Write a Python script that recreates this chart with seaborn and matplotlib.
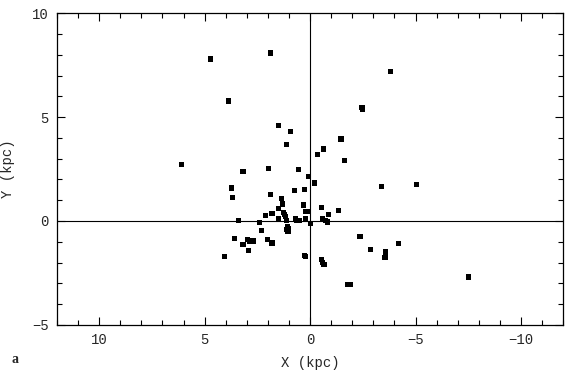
import numpy as np
import pandas as pd
import seaborn as sns
import matplotlib.pyplot as plt
from matplotlib.ticker import MultipleLocator

# galactocentric-ish positions (kpc)
x_kpc = [4.72, 1.87, -3.82, 3.87, -2.46, -2.48, 1.48, 0.94, 1.10, -1.47,
         -0.65, -0.36, -1.62, 6.10, 3.18, 1.98, 0.56, 0.09, -0.20, -3.39,
         -5.06, 0.72, 0.26, 3.71, 3.66, 1.89, 1.36, 1.30, 0.30, -0.53,
         1.49, 0.23, 0.09, -0.88, -1.33, 1.27, 1.21, 1.18, 1.81, 2.10,
         1.49, 1.10, 0.70, 0.64, 0.50, 0.22, -0.59, -0.72, -0.83, -0.02,
         3.38, 2.41, 2.31, 1.08, 1.02, 1.13, 1.05, 3.60, 2.96, 2.85,
         2.71, 3.18, 2.91, 2.03, 1.81, 4.07, -2.37, -4.21, -2.86, -3.57,
         -3.55, 0.25, 0.20, -0.56, -0.59, -0.66, -1.76, -1.90, -7.50]
y_kpc = [7.79, 8.08, 7.21, 5.77, 5.47, 5.37, 4.58, 4.31, 3.67, 3.94,
         3.46, 3.21, 2.90, 2.73, 2.38, 2.54, 2.47, 2.13, 1.83, 1.67,
         1.75, 1.47, 1.51, 1.59, 1.11, 1.29, 1.10, 0.82, 0.77, 0.66,
         0.59, 0.45, 0.45, 0.30, 0.49, 0.42, 0.30, 0.21, 0.35, 0.27,
         0.10, 0.01, 0.10, 0.03, 0.02, 0.10, 0.12, 0.01, -0.05, -0.11,
         0.01, -0.06, -0.45, -0.27, -0.35, -0.43, -0.51, -0.86, -0.88, -0.98,
         -0.96, -1.12, -1.43, -0.88, -1.06, -1.70, -0.75, -1.09, -1.36, -1.49,
         -1.76, -1.65, -1.72, -1.85, -2.00, -2.08, -3.04, -3.04, -2.70]

df = pd.DataFrame({"X": x_kpc, "Y": y_kpc})

sns.set_style("ticks")
plt.rcParams["font.family"] = ["Liberation Mono", "DejaVu Sans Mono"]
plt.rcParams["font.size"] = 10

fig = plt.figure(figsize=(5.7, 3.76), dpi=100)
ax = fig.add_axes([0.1, 0.136, 0.888, 0.829])

ax.axhline(0, color="black", lw=0.8, zorder=1)
ax.axvline(0, color="black", lw=0.8, zorder=1)
sns.scatterplot(data=df, x="X", y="Y", marker="s", s=14, color="black",
                edgecolor="none", linewidth=0, ax=ax, zorder=3)

ax.set_xlim(12, -12)
ax.set_ylim(-5, 10)
ax.xaxis.set_major_locator(MultipleLocator(5))
ax.xaxis.set_minor_locator(MultipleLocator(1))
ax.yaxis.set_major_locator(MultipleLocator(5))
ax.yaxis.set_minor_locator(MultipleLocator(1))
ax.tick_params(which="both", direction="in", top=True, right=True,
               color="black", width=0.8)
ax.tick_params(which="major", length=6, pad=6, labelsize=10)
ax.tick_params(which="minor", length=3.5)
for sp in ax.spines.values():
    sp.set_color("black")
    sp.set_linewidth(0.9)

ax.set_xlabel("X (kpc)", labelpad=6)
ax.set_ylabel("Y (kpc)", labelpad=12)
fig.text(0.021, 0.035, "a", fontsize=10, fontweight="bold",
         family=["Liberation Serif", "DejaVu Serif"])

fig.savefig("out.png", dpi=100)
